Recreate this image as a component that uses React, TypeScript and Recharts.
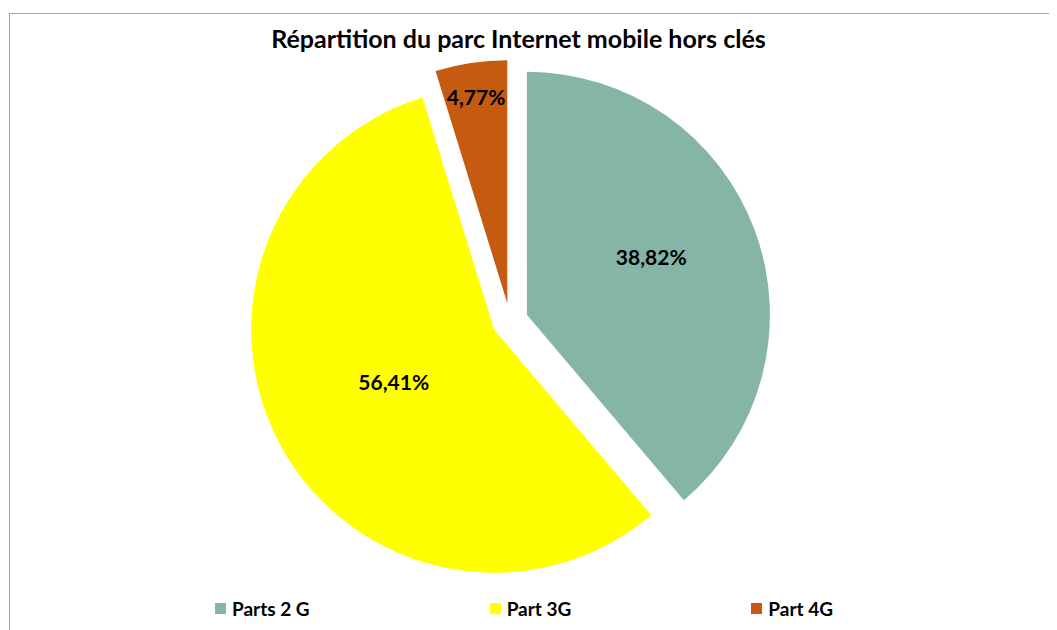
import React from 'react';
import { PieChart, Pie, Cell } from 'recharts';

const categories = ['Parts 2 G', 'Part 3G', 'Part 4G'];
const shares = [38.82, 56.41, 4.77];
const valueLabels = ['38,82%', '56,41%', '4,77%'];
const title = 'Répartition du parc Internet mobile hors clés';

const colors = ['#84B5A7', '#FFFF00', '#C55A11'];
const labelRadiusFraction = [0.565, 0.465, 0.86];
const labelAngleShift = [5, -1.5, 0];

const data = categories.map((name, i) => ({ name, value: shares[i], label: valueLabels[i] }));

const W = 1049;
const H = 622;
const CX = 502;
const CY = 313;
const R = 243;
const EXPLODE = 18;
const FONT = 'Lato, "Open Sans", sans-serif';
const RAD = Math.PI / 180;

const total = shares.reduce((a, b) => a + b, 0);
const midAngles: number[] = [];
{
  let cum = 0;
  shares.forEach((v) => {
    midAngles.push(((cum + v / 2) / total) * 360);
    cum += v;
  });
}

const makeLabel = (k: number) => (props: any) => {
  const { cx, cy, midAngle, index } = props;
  if (index !== k) return <g />;
  const r = R * labelRadiusFraction[k];
  const a = (midAngle + labelAngleShift[k]) * RAD;
  const x = cx + r * Math.cos(-a);
  const y = cy + r * Math.sin(-a);
  return (
    <text
      x={x}
      y={y}
      textAnchor="middle"
      dominantBaseline="central"
      fill="#000"
      fontFamily={FONT}
      fontWeight={700}
      fontSize={21}
    >
      {data[k].label}
    </text>
  );
};

export default function App() {
  return (
    <div style={{ position: 'relative', width: W, height: H, overflow: 'hidden', background: '#fff' }}>
      <div
        style={{
          position: 'absolute',
          left: 1,
          top: 5,
          width: 1100,
          height: 700,
          border: '1px solid #a6a6a6',
          boxSizing: 'border-box',
        }}
      />
      <div
        style={{
          position: 'absolute',
          left: 0,
          width: W - 28,
          top: 15,
          textAlign: 'center',
          fontFamily: FONT,
          fontWeight: 700,
          fontSize: 25,
          color: '#000',
          lineHeight: '30px',
        }}
      >
        {title}
      </div>
      <div style={{ position: 'absolute', left: 0, top: 0 }}>
        <PieChart width={W} height={H} margin={{ top: 0, right: 0, bottom: 0, left: 0 }}>
          {categories.map((_, k) => (
            <Pie
              key={k}
              data={data}
              dataKey="value"
              nameKey="name"
              cx={CX + EXPLODE * Math.sin(midAngles[k] * RAD)}
              cy={CY - EXPLODE * Math.cos(midAngles[k] * RAD)}
              outerRadius={R}
              innerRadius={0}
              startAngle={90}
              endAngle={-270}
              stroke="none"
              isAnimationActive={false}
              labelLine={false}
              label={makeLabel(k)}
            >
              {data.map((d, i) => (
                <Cell key={d.name} fill={i === k ? colors[i] : 'transparent'} stroke="none" />
              ))}
            </Pie>
          ))}
        </PieChart>
      </div>
      <div
        style={{
          position: 'absolute',
          left: 0,
          width: W - 17,
          top: 589,
          display: 'flex',
          justifyContent: 'center',
          gap: 180,
          fontFamily: FONT,
          fontWeight: 700,
          fontSize: 19,
          lineHeight: '23px',
          color: '#000',
        }}
      >
        {categories.map((c, i) => (
          <div key={c} style={{ display: 'flex', alignItems: 'center' }}>
            <span style={{ width: 11, height: 11, background: colors[i], marginRight: 6, display: 'inline-block' }} />
            <span>{c}</span>
          </div>
        ))}
      </div>
    </div>
  );
}
